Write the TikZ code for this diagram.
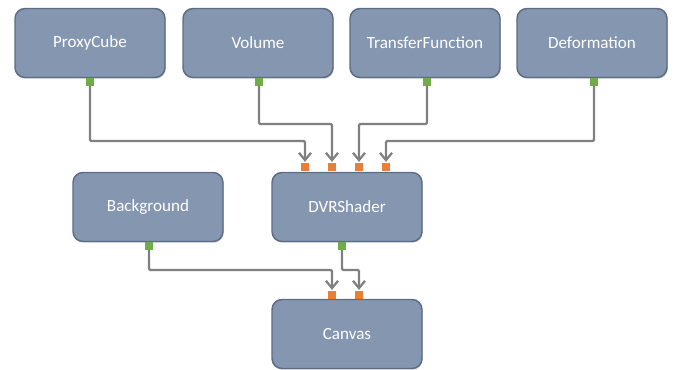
\documentclass[tikz,border=0pt]{standalone}
\usepackage{fontspec}
\setmainfont{Carlito}
\usetikzlibrary{arrows.meta,shadows}
\definecolor{boxfill}{RGB}{132,150,176}
\definecolor{boxline}{RGB}{92,108,132}
\definecolor{wire}{RGB}{128,128,128}
\definecolor{outport}{RGB}{112,173,71}
\definecolor{inport}{RGB}{237,125,49}
\tikzset{
  module/.style={draw=boxline, line width=1.1pt, fill=boxfill, rounded corners=7.5pt,
    minimum width=112.5pt, minimum height=51.75pt, inner sep=0pt,
    text=white, font=\fontsize{12.8}{15}\selectfont,
    drop shadow={shadow xshift=0.6pt, shadow yshift=-0.9pt, opacity=0.35}},
  outp/.style={fill=outport, minimum width=5.4pt, minimum height=5.4pt, inner sep=0pt},
  inp/.style={fill=inport, minimum width=5.4pt, minimum height=6pt, inner sep=0pt},
  wireline/.style={draw=wire, line width=1.7pt, rounded corners=1pt,
    -{Straight Barb[length=5.5pt,width=9pt,line width=1.7pt]}, shorten >=0.6pt},
}
\begin{document}
\begin{tikzpicture}[x=0.75pt,y=-0.75pt]
\useasboundingbox (0,0) rectangle (693,369);
% modules
\node[module] (proxy) at (90,43) {ProxyCube};
\node[module] (vol) at (258,43) {Volume};
\node[module] (tf) at (425,43) {TransferFunction};
\node[module] (def) at (592,43) {Deformation};
\node[module] (bg) at (148,207) {Background};
\node[module] (dvr) at (347,207) {DVRShader};
\node[module] (canvas) at (347,334) {Canvas};
% output ports
\node[outp] (proxyo) at (90,82) {};
\node[outp] (volo) at (259,82) {};
\node[outp] (tfo) at (427,82) {};
\node[outp] (defo) at (594,82) {};
\node[outp] (bgo) at (149,246) {};
\node[outp] (dvro) at (342,246) {};
% input ports
\node[inp] (dvr1) at (305,167) {};
\node[inp] (dvr2) at (332,167) {};
\node[inp] (dvr3) at (359,167) {};
\node[inp] (dvr4) at (386,167) {};
\node[inp] (can1) at (332,295) {};
\node[inp] (can2) at (359,295) {};
% connections
\draw[wireline] (proxyo.south) |- (305,141) -- (dvr1.north);
\draw[wireline] (volo.south) |- (332,124) -- (dvr2.north);
\draw[wireline] (tfo.south) |- (359,124) -- (dvr3.north);
\draw[wireline] (defo.south) |- (386,141) -- (dvr4.north);
\draw[wireline] (bgo.south) |- (332,270) -- (can1.north);
\draw[wireline] (dvro.south) |- (359,270) -- (can2.north);
\end{tikzpicture}
\end{document}
